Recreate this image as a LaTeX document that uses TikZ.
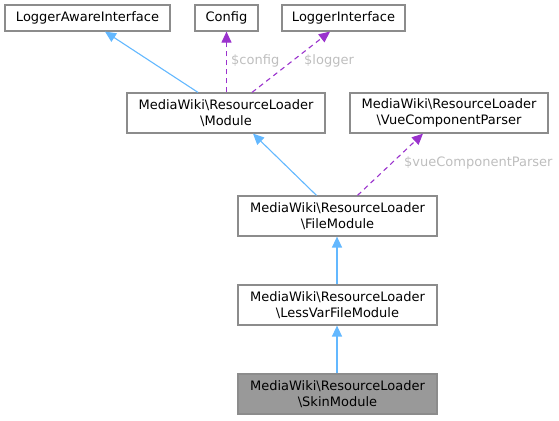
\documentclass[tikz,border=0pt]{standalone}
\usepackage{fontspec}
\setmainfont{DejaVu Sans}
\usetikzlibrary{arrows.meta,calc}
\definecolor{boxborder}{HTML}{8C8C8C}
\definecolor{inhblue}{HTML}{63B8FF}
\definecolor{usepurple}{HTML}{9A32CD}
\definecolor{lblgray}{HTML}{BEBEBE}
\definecolor{skinfill}{HTML}{999999}
\tikzset{
  cls/.style={draw=boxborder, line width=1.2pt, fill=white, rectangle, align=center, inner sep=0pt,
    font=\fontsize{13}{16}\selectfont, text=black},
  inh/.style={draw=inhblue, line width=1.1pt, -{Triangle[length=11pt,width=10pt,fill=inhblue]}},
  usage/.style={draw=usepurple, line width=1.1pt, dash pattern=on 5pt off 4pt, -{Triangle[length=11pt,width=10pt,fill=usepurple]}},
  lbl/.style={text=lblgray, font=\fontsize{13}{16}\selectfont, anchor=west, inner sep=0pt}
}
\begin{document}
\begin{tikzpicture}[x=1pt,y=-1pt]
\useasboundingbox (0,0) rectangle (559,420);
\node[cls, minimum width=165pt, minimum height=26pt] (lai) at (87.5,18) {LoggerAwareInterface};
\node[cls, minimum width=63pt, minimum height=26pt] (config) at (226.5,18) {Config};
\node[cls, minimum width=123pt, minimum height=26pt] (li) at (343.5,18) {LoggerInterface};
\node[cls, minimum width=198pt, minimum height=40pt] (module) at (226,113) {MediaWiki\textbackslash ResourceLoader\\\textbackslash Module};
\node[cls, minimum width=198pt, minimum height=40pt] (vue) at (449,113) {MediaWiki\textbackslash ResourceLoader\\\textbackslash VueComponentParser};
\node[cls, minimum width=199pt, minimum height=40pt] (file) at (337.5,216) {MediaWiki\textbackslash ResourceLoader\\\textbackslash FileModule};
\node[cls, minimum width=199pt, minimum height=40pt] (less) at (337.5,305) {MediaWiki\textbackslash ResourceLoader\\\textbackslash LessVarFileModule};
\node[cls, minimum width=199pt, minimum height=40pt, fill=skinfill] (skin) at (337.5,394) {MediaWiki\textbackslash ResourceLoader\\\textbackslash SkinModule};

\draw[inh] ($(module.north)+(-28,0)$) -- ($(lai.south)+(17.5,0)$);
\draw[usage] ($(module.north)+(0.5,0)$) -- (config.south);
\draw[usage] ($(module.north)+(26,0)$) -- ($(li.south)+(-13.5,0)$);
\draw[inh] ($(file.north)+(-21,0)$) -- ($(module.south)+(27,0)$);
\draw[usage] ($(file.north)+(20,0)$) -- ($(vue.south)+(-26,0)$);
\draw[inh, line width=1.4pt] ($(less.north)+(-0.5,0)$) -- ($(file.south)+(-0.5,0)$);
\draw[inh, line width=1.4pt] ($(skin.north)+(-0.5,0)$) -- ($(less.south)+(-0.5,0)$);

\node[lbl] (lconfig) at (231,61) {\$config};
\node[lbl] (llogger) at (304,61) {\$logger};
\node[lbl] (lvue) at (404,163) {\$vueComponentParser};
\end{tikzpicture}
\end{document}
